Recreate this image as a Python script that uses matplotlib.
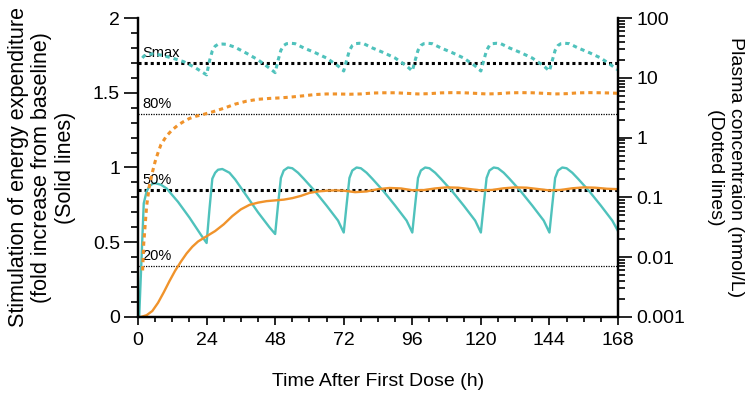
import numpy as np
import matplotlib
from matplotlib import pyplot as plt
from matplotlib.ticker import MultipleLocator, LogLocator, FixedLocator, FixedFormatter, NullFormatter


# stimulation of energy expenditure (left axis, solid lines)
stim_teal_t = [0, 0.4, 2, 3, 4, 5, 6, 8, 10, 14, 18, 22, 24,
               25, 26, 27, 28, 29.5, 32, 34, 38, 42, 46, 48,
               49, 50, 51, 52.5, 54, 56, 58, 62, 66, 70, 72,
               73, 74, 75, 76.5, 78, 80, 82, 86, 90, 94, 96,
               97, 98, 99, 100.5, 102, 104, 106, 110, 114, 118, 120,
               121, 122, 123, 124.5, 126, 128, 130, 134, 138, 142, 144,
               145, 146, 147, 148.5, 150, 152, 154, 158, 162, 166, 168]
stim_teal = [0, 0, 0.76, 0.84, 0.875, 0.89, 0.895, 0.885, 0.86, 0.77, 0.665, 0.55, 0.495,
             0.72, 0.925, 0.965, 0.985, 0.99, 0.965, 0.92, 0.81, 0.70, 0.60, 0.555,
             0.75, 0.93, 0.98, 1.0, 0.995, 0.965, 0.925, 0.84, 0.745, 0.645, 0.565,
             0.75, 0.93, 0.98, 1.0, 0.995, 0.965, 0.925, 0.84, 0.745, 0.645, 0.565,
             0.75, 0.93, 0.98, 1.0, 0.995, 0.965, 0.925, 0.84, 0.745, 0.645, 0.565,
             0.75, 0.93, 0.98, 1.0, 0.995, 0.965, 0.925, 0.84, 0.745, 0.645, 0.565,
             0.75, 0.93, 0.98, 1.0, 0.995, 0.965, 0.925, 0.84, 0.745, 0.645, 0.575]

stim_orange_t = [0, 1, 3, 5, 7, 9, 11, 13, 15, 17, 19, 21, 24, 27, 30, 33, 36, 39, 42, 45,
                 48, 51, 54, 57, 60, 63, 66, 69, 72, 76, 80, 84, 88, 92, 96, 100, 104, 108,
                 112, 116, 120, 124, 128, 132, 136, 140, 144, 148, 152, 156, 160, 164, 168]
stim_orange = [0, 0, 0.012, 0.04, 0.095, 0.165, 0.24, 0.31, 0.37, 0.425, 0.47, 0.505, 0.54,
               0.575, 0.62, 0.675, 0.72, 0.75, 0.765, 0.775, 0.78, 0.785, 0.795, 0.81, 0.83,
               0.84, 0.845, 0.847, 0.845, 0.835, 0.84, 0.855, 0.863, 0.86, 0.848, 0.849, 0.86,
               0.867, 0.865, 0.856, 0.847, 0.85, 0.861, 0.867, 0.865, 0.856, 0.847, 0.85,
               0.861, 0.867, 0.865, 0.858, 0.855]

# plasma concentration in nmol/L (right axis, dotted lines)
conc_teal_t = [1.5, 2, 3, 5, 8, 12, 16, 20, 24,
               25, 26, 27, 28, 29.5, 31, 34, 38, 42, 46, 48,
               49, 50, 51, 52, 53.5, 55, 58, 62, 66, 70, 72,
               73, 74, 75, 76, 77.5, 79, 82, 86, 90, 94, 96,
               97, 98, 99, 100, 101.5, 103, 106, 110, 114, 118, 120,
               121, 122, 123, 124, 125.5, 127, 130, 134, 138, 142, 144,
               145, 146, 147, 148, 149.5, 151, 154, 158, 162, 166, 168]
conc_teal = [21.5, 22.9, 24.5, 25.1, 24.0, 21.4, 18.6, 14.8, 11.2,
             19.1, 28.2, 33.9, 36.3, 36.7, 36.3, 32.4, 25.7, 20.0, 14.5, 12.2,
             19.5, 28.8, 34.7, 37.2, 37.8, 37.2, 31.6, 26.3, 21.4, 15.8, 13.0,
             19.5, 28.8, 34.7, 37.2, 37.8, 37.2, 31.6, 26.3, 21.4, 15.8, 13.0,
             19.5, 28.8, 34.7, 37.2, 37.8, 37.2, 31.6, 26.3, 21.4, 15.8, 13.0,
             19.5, 28.8, 34.7, 37.2, 37.8, 37.2, 31.6, 26.3, 21.4, 15.8, 13.0,
             19.5, 28.8, 34.7, 37.2, 37.8, 37.2, 31.6, 26.3, 21.4, 15.8, 13.5]

conc_orange_t = [1.6, 2, 3, 4, 5, 6, 7, 8, 10, 12, 14, 16, 18, 20, 23, 26, 30, 34, 38, 42,
                 46, 50, 54, 58, 62, 66, 70, 74, 78, 82, 86, 90, 94, 98, 102, 106, 110, 114,
                 118, 122, 126, 130, 134, 138, 142, 146, 150, 154, 158, 162, 166, 168]
conc_orange = [0.006, 0.017, 0.071, 0.16, 0.26, 0.40, 0.56, 0.76, 1.07, 1.35, 1.62, 1.86,
               2.09, 2.26, 2.45, 2.69, 3.09, 3.63, 4.07, 4.37, 4.52, 4.62, 4.79, 5.01, 5.25,
               5.37, 5.37, 5.31, 5.37, 5.56, 5.62, 5.62, 5.50, 5.37, 5.43, 5.60, 5.65, 5.62,
               5.50, 5.37, 5.43, 5.60, 5.65, 5.62, 5.50, 5.37, 5.43, 5.60, 5.65, 5.62, 5.56,
               5.50]

# reference levels as fractions of the maximal stimulation
smax = 1.7
ref_fracs = [1.0, 0.8, 0.5, 0.2]
ref_labels = ['Smax', '80%', '50%', '20%']
ref_widths = [2.2, 0.9, 2.2, 0.9]

x_ticks = [0, 24, 48, 72, 96, 120, 144, 168]
left_ticks = [0, 0.5, 1, 1.5, 2]
left_ticklabels = ['0', '0.5', '1', '1.5', '2']
right_ticks = [0.001, 0.01, 0.1, 1, 10, 100]
right_ticklabels = ['0.001', '0.01', '0.1', '1', '10', '100']

teal = '#4fc2bc'
orange = '#f0932b'

plt.rcParams['font.family'] = ['Liberation Sans', 'DejaVu Sans']

fig, ax = plt.subplots(figsize=(7.51, 3.95), dpi=100)
fig.subplots_adjust(left=0.1838, right=0.8229, top=0.9544, bottom=0.1975)
ax2 = ax.twinx()

for frac, label, lw in zip(ref_fracs, ref_labels, ref_widths):
    ax.axhline(smax * frac, color='black', lw=lw, linestyle=(0, (1, 1)), zorder=1)
    ax.text(1.6, smax * frac + 0.04, label, fontsize=10.5, va='baseline', ha='left')

ax.plot(stim_teal_t, stim_teal, color=teal, lw=1.7, zorder=2)
ax.plot(stim_orange_t, stim_orange, color=orange, lw=1.7, zorder=2)

ax2.plot(conc_teal_t, conc_teal, color=teal, lw=2.2, dashes=(1.4, 1.3))
ax2.plot(conc_orange_t, conc_orange, color=orange, lw=2.2, dashes=(1.4, 1.3))

ax.set_xlim(0, 168)
ax.set_ylim(0, 2)
ax2.set_yscale('log')
ax2.set_ylim(0.001, 100)

ax.xaxis.set_major_locator(FixedLocator(x_ticks))
ax.xaxis.set_minor_locator(MultipleLocator(6))
ax.yaxis.set_major_locator(FixedLocator(left_ticks))
ax.yaxis.set_major_formatter(FixedFormatter(left_ticklabels))
ax.yaxis.set_minor_locator(MultipleLocator(0.1))
ax2.yaxis.set_major_locator(FixedLocator(right_ticks))
ax2.yaxis.set_major_formatter(FixedFormatter(right_ticklabels))
ax2.yaxis.set_minor_locator(LogLocator(base=10, subs=np.arange(2, 10)))
ax2.yaxis.set_minor_formatter(NullFormatter())

for a in (ax, ax2):
    for side in ('left', 'right', 'bottom'):
        a.spines[side].set_linewidth(1.6)
    a.spines['top'].set_visible(False)
    a.tick_params(axis='y', which='major', length=10, width=1.2, labelsize=14, pad=3)
    a.tick_params(axis='y', which='minor', length=5, width=1.2)
ax.tick_params(axis='x', which='major', length=6, width=1.2, labelsize=14, pad=5)
ax.tick_params(axis='x', which='minor', length=3.5, width=1.2)

ax.set_xlabel('Time After First Dose (h)', fontsize=14, labelpad=17)
ax.set_ylabel('Stimulation of energy expenditure\n(fold increase from baseline)\n(Solid lines)',
              fontsize=15.5, linespacing=1.15)
ax.yaxis.set_label_coords(-0.13, 0.5)
fig.text(0.966, 0.576, 'Plasma concentraion (nmol/L)\n(Dotted lines)', fontsize=14,
         rotation=270, ha='center', va='center', multialignment='center', linespacing=1.3)

plt.savefig('out.png')
